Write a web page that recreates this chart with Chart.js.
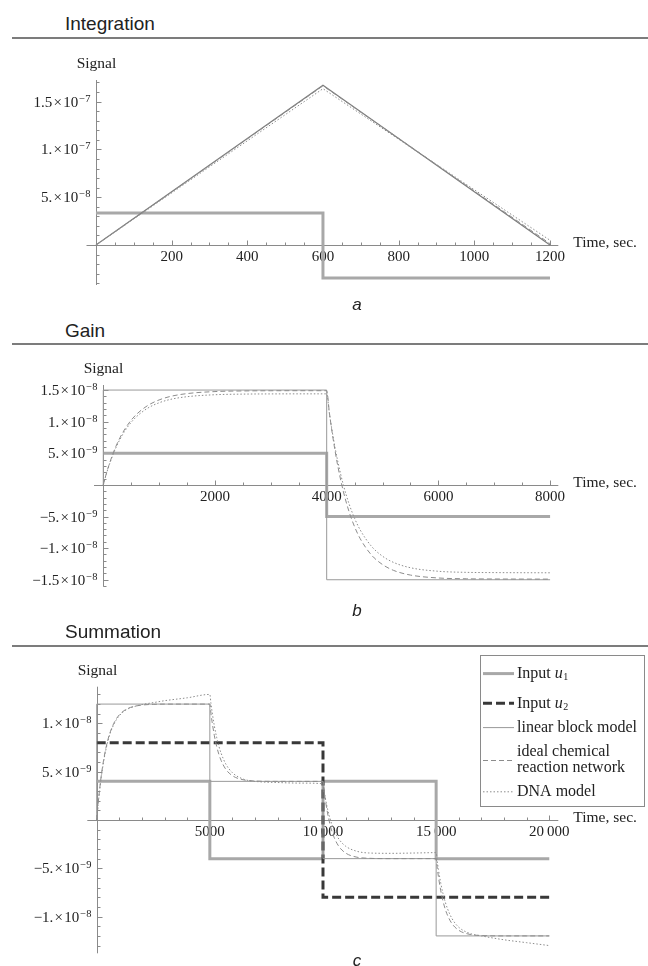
<!DOCTYPE html>
<html>
<head>
<meta charset="utf-8">
<title>Integration, gain and summation</title>
<script src="https://cdn.jsdelivr.net/npm/chart.js@4.4.1/dist/chart.umd.min.js"></script>
<style>
  body { margin: 0; background: #fff; }
  #page { position: relative; width: 648px; height: 966px; overflow: hidden; font-family: "Liberation Sans", Arial, sans-serif; color: #222; }
  .title { position: absolute; left: 65px; font-size: 19px; line-height: 1; white-space: nowrap; }
  .rule { position: absolute; left: 12px; width: 636px; height: 2px; background: #7c7c7c; }
  .tag { position: absolute; left: 347px; width: 20px; text-align: center; font-size: 17px; font-style: italic; line-height: 1; }
  canvas { position: absolute; left: 0; }
</style>
</head>
<body>
<div id="page">
  <div class="title" style="top:13.7px">Integration</div>
  <div class="rule" style="top:36.7px"></div>
  <canvas id="chartA" width="648" height="255" style="top:45px;width:648px;height:255px"></canvas>
  <div class="tag" style="top:296px">a</div>

  <div class="title" style="top:321.4px">Gain</div>
  <div class="rule" style="top:343px"></div>
  <canvas id="chartB" width="648" height="255" style="top:350px;width:648px;height:255px"></canvas>
  <div class="tag" style="top:601.6px">b</div>

  <div class="title" style="top:622.4px">Summation</div>
  <div class="rule" style="top:645px"></div>
  <canvas id="chartC" width="648" height="310" style="top:650px;width:648px;height:310px"></canvas>
  <div class="tag" style="top:952px">c</div>
</div>

<script>
// ---- Panel a: Integration ----
const intTime = [0, 600, 1200];
const intInput = [3.35e-8, -3.45e-8, -3.45e-8];
const intLinear = [0, 1.67e-7, 0];
const intIdeal = [0, 1.665e-7, 1.5e-9];
const intDna = [0, 1.635e-7, 5e-9];
const intXTicks = [200, 400, 600, 800, 1000, 1200];
const intXLabels = ['200', '400', '600', '800', '1000', '1200'];
const intYTicks = [5e-8, 1e-7, 1.5e-7];
const intYLabels = ['5.×10^−8', '1.×10^−7', '1.5×10^−7'];

// ---- Panel b: Gain ----
const gainInTime = [0, 4000, 8000];
const gainInput = [5e-9, -5e-9, -5e-9];
const gainLinTime = [0, 0, 4000, 8000];
const gainLinear = [0, 1.5e-8, -1.5e-8, -1.5e-8];
const gainTime = [0, 50, 100, 200, 300, 400, 500, 600, 800, 1000, 1200, 1500, 2000, 2500, 3000, 3500, 4000,
  4050, 4100, 4150, 4200, 4300, 4400, 4500, 4600, 4800, 5000, 5200, 5500, 6000, 6500, 7000, 8000];
const gainIdeal = [0, 1.64e-9, 3.09e-9, 5.54e-9, 7.48e-9, 9.02e-9, 1.024e-8, 1.121e-8, 1.258e-8, 1.344e-8,
  1.399e-8, 1.444e-8, 1.476e-8, 1.486e-8, 1.489e-8, 1.49e-8, 1.49e-8,
  1.13e-8, 8.16e-9, 5.39e-9, 2.94e-9, -1.09e-9, -4.21e-9, -6.63e-9, -8.5e-9, -1.107e-8, -1.26e-8,
  -1.353e-8, -1.426e-8, -1.472e-8, -1.485e-8, -1.488e-8, -1.49e-8];
const gainDna = [0, 1.58e-9, 2.99e-9, 5.35e-9, 7.23e-9, 8.72e-9, 9.9e-9, 1.083e-8, 1.216e-8, 1.299e-8,
  1.352e-8, 1.395e-8, 1.426e-8, 1.436e-8, 1.439e-8, 1.44e-8, 1.44e-8,
  1.12e-8, 8.4e-9, 5.9e-9, 3.68e-9, -5e-11, -2.98e-9, -5.29e-9, -7.12e-9, -9.69e-9, -1.128e-8,
  -1.227e-8, -1.31e-8, -1.366e-8, -1.383e-8, -1.387e-8, -1.39e-8];
const gainXTicks = [2000, 4000, 6000, 8000];
const gainXLabels = ['2000', '4000', '6000', '8000'];
const gainYTicks = [1.5e-8, 1e-8, 5e-9, -5e-9, -1e-8, -1.5e-8];
const gainYLabels = ['1.5×10^−8', '1.×10^−8', '5.×10^−9', '−5.×10^−9', '−1.×10^−8', '−1.5×10^−8'];

// ---- Panel c: Summation ----
const sumU1Time = [0, 5000, 10000, 15000, 20000];
const sumU1 = [4e-9, -4e-9, 4e-9, -4e-9, -4e-9];
const sumU2Time = [0, 10000, 20000];
const sumU2 = [8e-9, -8e-9, -8e-9];
const sumLinTime = [0, 0, 5000, 10000, 15000, 20000];
const sumLinear = [0, 1.2e-8, 4e-9, -4e-9, -1.2e-8, -1.2e-8];
const sumTime = [0, 50, 100, 200, 300, 400, 500, 600, 800, 1000, 1300, 1600, 2000, 2500, 3000, 4000,
  5000, 5050, 5100, 5200, 5300, 5400, 5500, 5700, 6000, 6500, 7000, 8000, 9000,
  10000, 10050, 10100, 10200, 10300, 10400, 10500, 10700, 11000, 11500, 12000, 13000, 14000,
  15000, 15050, 15100, 15200, 15300, 15400, 15500, 15700, 16000, 16500, 17000, 18000, 19000, 20000];
const sumIdeal = [0, 1.35e-9, 2.54e-9, 4.55e-9, 6.13e-9, 7.37e-9, 8.35e-9, 9.12e-9, 1.021e-8, 1.089e-8,
  1.146e-8, 1.173e-8, 1.19e-8, 1.197e-8, 1.2e-8, 1.2e-8,
  1.2e-8, 1.101e-8, 1.015e-8, 8.73e-9, 7.63e-9, 6.79e-9, 6.15e-9, 5.27e-9, 4.58e-9, 4.15e-9, 4.04e-9, 4e-9, 4e-9,
  4e-9, 3.01e-9, 2.15e-9, 7.3e-10, -3.7e-10, -1.21e-9, -1.85e-9, -2.73e-9, -3.42e-9, -3.85e-9, -3.96e-9, -4e-9, -4e-9,
  -4e-9, -4.99e-9, -5.85e-9, -7.27e-9, -8.37e-9, -9.21e-9, -9.85e-9, -1.073e-8, -1.142e-8, -1.185e-8,
  -1.196e-8, -1.2e-8, -1.2e-8, -1.2e-8];
const sumDna = [0, 1.3e-9, 2.45e-9, 4.4e-9, 5.95e-9, 7.2e-9, 8.2e-9, 9e-9, 1.01e-8, 1.08e-8,
  1.14e-8, 1.17e-8, 1.195e-8, 1.215e-8, 1.235e-8, 1.265e-8,
  1.3e-8, 1.204e-8, 1.119e-8, 9.73e-9, 8.57e-9, 7.64e-9, 6.9e-9, 5.82e-9, 4.89e-9, 4.22e-9, 4e-9, 3.88e-9, 3.82e-9,
  3.75e-9, 2.99e-9, 2.3e-9, 1.15e-9, 2.2e-10, -5.2e-10, -1.11e-9, -1.97e-9, -2.71e-9, -3.24e-9, -3.41e-9, -3.45e-9, -3.42e-9,
  -3.38e-9, -4.3e-9, -5.11e-9, -6.49e-9, -7.59e-9, -8.47e-9, -9.17e-9, -1.02e-8, -1.11e-8, -1.175e-8,
  -1.2e-8, -1.24e-8, -1.27e-8, -1.3e-8];
const sumXTicks = [5000, 10000, 15000, 20000];
const sumXLabels = ['5000', '10\u2009000', '15\u2009000', '20\u2009000'];
const sumYTicks = [1e-8, 5e-9, -5e-9, -1e-8];
const sumYLabels = ['1.×10^−8', '5.×10^−9', '−5.×10^−9', '−1.×10^−8'];

const seriesNames = ['Input u1', 'Input u2', 'linear block model', 'ideal chemical\nreaction network', 'DNA model'];

// Styles
const SERIF = '"Liberation Serif", "Times New Roman", serif';
const AXIS = '#8a8a8a';
const INK = '#222';

const pts = (xs, ys) => xs.map((x, i) => ({ x, y: ys[i] }));

const u1Style = { borderColor: '#a8a8a8', borderWidth: 3, stepped: true, order: 5 };
const u2Style = { borderColor: '#383838', borderWidth: 3, borderDash: [9, 4], stepped: true, order: 4 };
const linStyle = { borderColor: '#999', borderWidth: 1, stepped: true, order: 3 };
const idealStyle = { borderColor: '#8c8c8c', borderWidth: 1, borderDash: [5, 3], cubicInterpolationMode: 'monotone', order: 2 };
const dnaStyle = { borderColor: '#8c8c8c', borderWidth: 1, borderDash: [1.5, 2], cubicInterpolationMode: 'monotone', order: 1 };

// Draws "1.5×10" with a raised exponent, right aligned
const drawSci = (ctx, label, right, y) => {
  const [mant, exp] = label.split('^');
  const base = mant.replace('×', '\u200a×\u200a');
  const baseFont = `15px ${SERIF}`;
  const expFont = `10.5px ${SERIF}`;
  ctx.font = baseFont;
  const bw = ctx.measureText(base).width;
  ctx.font = expFont;
  const ew = ctx.measureText(exp).width;
  const left = right - bw - ew - 1;
  ctx.textAlign = 'left';
  ctx.textBaseline = 'alphabetic';
  ctx.font = baseFont;
  ctx.fillText(base, left, y + 5);
  ctx.font = expFont;
  ctx.fillText(exp, left + bw + 1, y);
};

// Mathematica style axes crossing at the origin
const mathAxes = (cfg) => ({
  id: 'mathAxes',
  beforeDatasetsDraw(chart) {
    const { ctx, chartArea: a, scales: { x, y } } = chart;
    const ox = Math.round(x.getPixelForValue(0)) + 0.5;
    const oy = Math.round(y.getPixelForValue(0)) + 0.5;
    ctx.save();
    ctx.strokeStyle = AXIS;
    ctx.lineWidth = 1;
    ctx.beginPath();
    ctx.moveTo(a.left, oy); ctx.lineTo(a.right, oy);
    ctx.moveTo(ox, a.top); ctx.lineTo(ox, a.bottom);

    const isMajor = (v, list, step) => list.some(t => Math.abs(t - v) < step / 10);
    for (let i = 1; i * cfg.xMinor <= x.max; i++) {
      const v = i * cfg.xMinor;
      const p = Math.round(x.getPixelForValue(v)) + 0.5;
      ctx.moveTo(p, oy);
      ctx.lineTo(p, oy - (isMajor(v, cfg.xTicks, cfg.xMinor) ? 5 : 3));
    }
    const yFrom = Math.ceil(y.min / cfg.yMinor), yTo = Math.floor(y.max / cfg.yMinor);
    for (let i = yFrom; i <= yTo; i++) {
      if (i === 0) continue;
      const v = i * cfg.yMinor;
      const p = Math.round(y.getPixelForValue(v)) + 0.5;
      ctx.moveTo(ox, p);
      ctx.lineTo(ox + (isMajor(v, cfg.yTicks, cfg.yMinor) ? 5 : 3), p);
    }
    ctx.stroke();

    ctx.fillStyle = INK;
    ctx.font = `15px ${SERIF}`;
    ctx.textAlign = 'center';
    ctx.textBaseline = 'middle';
    cfg.xTicks.forEach((v, i) => ctx.fillText(cfg.xLabels[i], x.getPixelForValue(v), oy + 12));
    cfg.yTicks.forEach((v, i) => drawSci(ctx, cfg.yLabels[i], ox - 6, y.getPixelForValue(v)));

    ctx.font = `15.5px ${SERIF}`;
    ctx.textAlign = 'center';
    ctx.textBaseline = 'middle';
    ctx.fillText('Signal', ox, a.top - 16);
    ctx.textAlign = 'left';
    ctx.fillText('Time, sec.', a.right + 15, oy - 3);
    ctx.restore();
  }
});

// Boxed legend inside panel c
const boxLegend = {
  id: 'boxLegend',
  afterDatasetsDraw(chart) {
    const ctx = chart.ctx;
    const rows = [23.6, 53.3, 77.6, 110.5, 141.8];
    ctx.save();
    ctx.fillStyle = '#fff';
    ctx.fillRect(480.5, 5.5, 164, 151);
    ctx.strokeStyle = '#8a8a8a';
    ctx.lineWidth = 1;
    ctx.strokeRect(480.5, 5.5, 164, 151);
    chart.data.datasets.forEach((ds, i) => {
      const yc = rows[i];
      ctx.strokeStyle = ds.borderColor;
      ctx.lineWidth = ds.borderWidth;
      ctx.setLineDash(ds.borderDash || []);
      ctx.beginPath();
      ctx.moveTo(483, yc);
      ctx.lineTo(514, yc);
      ctx.stroke();
      ctx.setLineDash([]);

      ctx.fillStyle = INK;
      ctx.textAlign = 'left';
      ctx.textBaseline = 'middle';
      const lines = ds.label.split('\n');
      const m = /^(.*)u(\d)$/.exec(ds.label);
      if (m) {
        ctx.font = `16px ${SERIF}`;
        ctx.fillText(m[1], 517, yc);
        let xx = 517 + ctx.measureText(m[1]).width;
        ctx.font = `italic 16px ${SERIF}`;
        ctx.fillText('u', xx, yc);
        xx += ctx.measureText('u').width + 0.5;
        ctx.font = `10px ${SERIF}`;
        ctx.fillText(m[2], xx, yc + 4);
      } else if (lines.length > 1) {
        ctx.font = `16px ${SERIF}`;
        ctx.fillText(lines[0], 517, yc - 8.5);
        ctx.fillText(lines[1], 517, yc + 7.5);
      } else {
        ctx.font = `16px ${SERIF}`;
        ctx.fillText(ds.label, 517, yc);
      }
    });
    ctx.restore();
  }
};

const makeChart = (id, datasets, xr, yr, padding, axesCfg, extra) => new Chart(document.getElementById(id), {
  type: 'line',
  data: { datasets },
  options: {
    responsive: false,
    animation: false,
    devicePixelRatio: 1,
    events: [],
    layout: { padding },
    elements: { point: { radius: 0 }, line: { tension: 0 } },
    scales: {
      x: { type: 'linear', display: false, bounds: 'data', min: xr[0], max: xr[1] },
      y: { type: 'linear', display: false, bounds: 'data', min: yr[0], max: yr[1] }
    },
    plugins: { legend: { display: false }, tooltip: { enabled: false } }
  },
  plugins: [mathAxes(axesCfg)].concat(extra || [])
});

// straight segments for the triangle in panel a
const straight = { cubicInterpolationMode: 'default', tension: 0 };

makeChart('chartA', [
  { label: seriesNames[0], data: pts(intTime, intInput), ...u1Style },
  { label: seriesNames[2], data: pts(intTime, intLinear), ...linStyle, stepped: false, borderColor: '#7d7d7d', borderWidth: 1.2 },
  { label: seriesNames[3], data: pts(intTime, intIdeal), ...idealStyle, ...straight },
  { label: seriesNames[4], data: pts(intTime, intDna), ...dnaStyle, ...straight }
], [-25, 1222], [-4.18e-8, 1.726e-7], { left: 86.5, right: 89.7, top: 35, bottom: 15 },
  { xTicks: intXTicks, xLabels: intXLabels, xMinor: 50, yTicks: intYTicks, yLabels: intYLabels, yMinor: 1e-8 });

makeChart('chartB', [
  { label: seriesNames[0], data: pts(gainInTime, gainInput), ...u1Style },
  { label: seriesNames[2], data: pts(gainLinTime, gainLinear), ...linStyle },
  { label: seriesNames[3], data: pts(gainTime, gainIdeal), ...idealStyle },
  { label: seriesNames[4], data: pts(gainTime, gainDna), ...dnaStyle }
], [-166, 8147], [-1.61e-8, 1.58e-8], { left: 94, right: 89.7, top: 35, bottom: 18.3 },
  { xTicks: gainXTicks, xLabels: gainXLabels, xMinor: 500, yTicks: gainYTicks, yLabels: gainYLabels, yMinor: 1e-9 });

makeChart('chartC', [
  { label: seriesNames[0], data: pts(sumU1Time, sumU1), ...u1Style },
  { label: seriesNames[1], data: pts(sumU2Time, sumU2), ...u2Style },
  { label: seriesNames[2], data: pts(sumLinTime, sumLinear), ...linStyle },
  { label: seriesNames[3], data: pts(sumTime, sumIdeal), ...idealStyle },
  { label: seriesNames[4], data: pts(sumTime, sumDna), ...dnaStyle }
], [-415, 20398], [-1.38e-8, 1.38e-8], { left: 87.3, right: 89.7, top: 36.7, bottom: 6.7 },
  { xTicks: sumXTicks, xLabels: sumXLabels, xMinor: 1000, yTicks: sumYTicks, yLabels: sumYLabels, yMinor: 1e-9 },
  [boxLegend]);
</script>
</body>
</html>
